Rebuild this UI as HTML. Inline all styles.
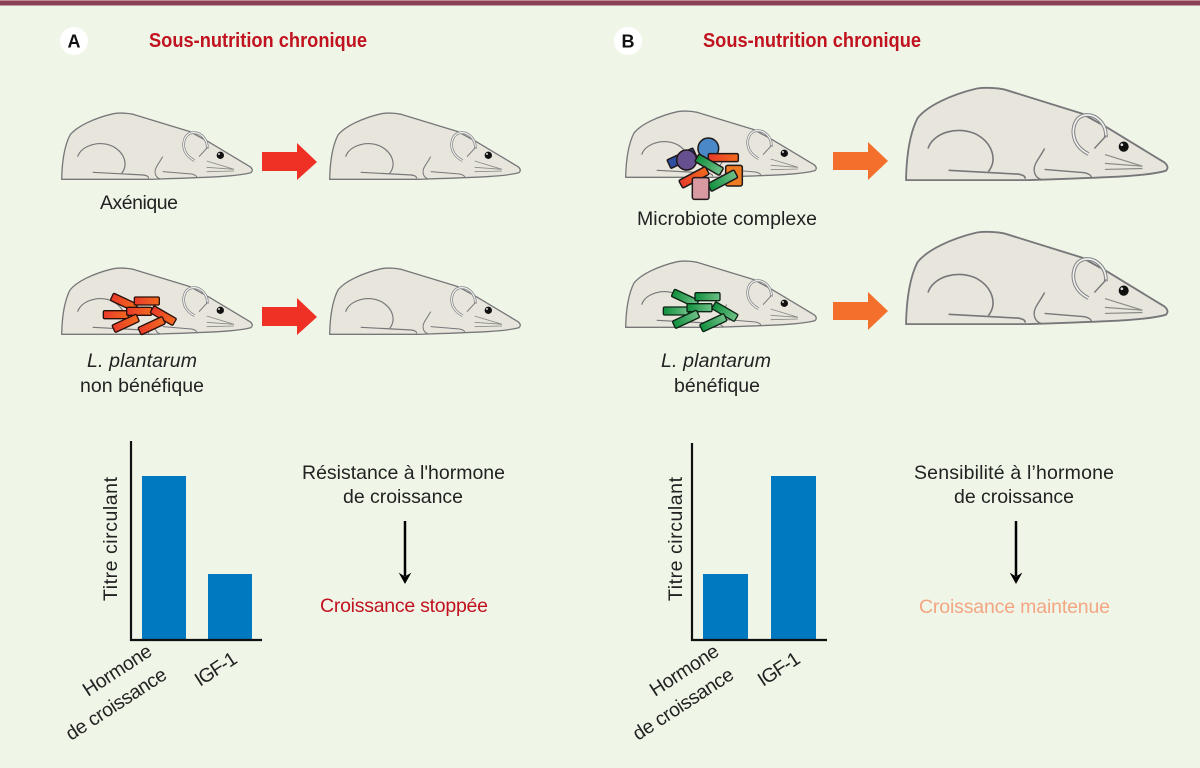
<!DOCTYPE html>
<html><head><meta charset="utf-8"><style>
html,body{margin:0;padding:0;background:#eff6e8}
svg{display:block}
text{font-family:"Liberation Sans",sans-serif;fill:#222;font-size:19.5px}
</style></head><body>
<svg width="1200" height="768" viewBox="0 0 1200 768" xmlns="http://www.w3.org/2000/svg">
<defs>
<linearGradient id="rd" x1="0" x2="1" y1="0" y2="0"><stop offset="0" stop-color="#e93a2a"/><stop offset="1" stop-color="#f26a1e"/></linearGradient>
<linearGradient id="gr" x1="0" x2="1" y1="0" y2="0"><stop offset="0" stop-color="#0f8f3c"/><stop offset="1" stop-color="#70c088"/></linearGradient>
<symbol id="m" overflow="visible" viewBox="0 0 640 300" width="640" height="300">
<path d="M35 268C36 220 42 170 60 135C80 110 130 85 190 71C210 68 235 70 250 73L420 125L475 155L600 230Q612 240 603 248C560 260 480 262 300 268Z" fill="#e8e6dc" stroke="#77777a" stroke-width="4" stroke-linejoin="round"/>
<path d="M83 200C95 165 150 150 190 170C225 190 235 225 215 250" fill="none" stroke="#77777a" stroke-width="3.5"/>
<path d="M128 247L280 255Q298 258 295 265" fill="none" stroke="#77777a" stroke-width="3.5"/>
<path d="M338 200C325 225 310 235 317 255Q322 265 330 266M338 245L425 252Q442 256 440 264" fill="none" stroke="#77777a" stroke-width="3"/>
<path d="M472 176C474 148 452 126 428 128C402 131 396 162 405 184C412 199 424 207 434 212" fill="none" stroke="#85858a" stroke-width="8"/>
<path d="M472 176C474 148 452 126 428 128C402 131 396 162 405 184C412 199 424 207 434 212" fill="none" stroke="#f2f2ee" stroke-width="3.500"/>
<path d="M473 172L447 200" fill="none" stroke="#77777a" stroke-width="3"/>
<circle cx="511" cy="196" r="11" fill="#111"/><circle cx="507" cy="192" r="3" fill="#ddd"/>
<path d="M470 213L552 238L470 232M470 245L552 243" fill="none" stroke="#8a8a85" stroke-width="2.5"/>
</symbol>
<g id="rods-r" stroke="#2a0f0a" stroke-width="4">
<rect x="-40" y="-12" width="80" height="24" rx="4" fill="url(#rd)" transform="translate(222 97) rotate(25)"/>
<rect x="-37" y="-12" width="75" height="24" rx="4" fill="url(#rd)" transform="translate(290 93)"/>
<rect x="-37" y="-12" width="75" height="24" rx="4" fill="url(#rd)" transform="translate(197 134)"/>
<rect x="-37" y="-12" width="75" height="24" rx="4" fill="url(#rd)" transform="translate(267 124)"/>
<rect x="-39" y="-12" width="78" height="24" rx="4" fill="url(#rd)" transform="translate(340 137) rotate(30)"/>
<rect x="-40" y="-12" width="80" height="24" rx="4" fill="url(#rd)" transform="translate(227 160) rotate(-25)"/>
<rect x="-40" y="-12" width="80" height="24" rx="4" fill="url(#rd)" transform="translate(305 167) rotate(-25)"/>
</g>
<g id="rods-g" stroke="#0c2414" stroke-width="4">
<rect x="-40" y="-12" width="80" height="24" rx="4" fill="url(#gr)" transform="translate(195 115) rotate(25)"/>
<rect x="-37" y="-12" width="75" height="24" rx="4" fill="url(#gr)" transform="translate(262 110)"/>
<rect x="-37" y="-12" width="75" height="24" rx="4" fill="url(#gr)" transform="translate(167 153)"/>
<rect x="-37" y="-12" width="75" height="24" rx="4" fill="url(#gr)" transform="translate(238 143)"/>
<rect x="-39" y="-12" width="78" height="24" rx="4" fill="url(#gr)" transform="translate(315 155) rotate(30)"/>
<rect x="-40" y="-12" width="80" height="24" rx="4" fill="url(#gr)" transform="translate(198 178) rotate(-25)"/>
<rect x="-40" y="-12" width="80" height="24" rx="4" fill="url(#gr)" transform="translate(280 188) rotate(-25)"/>
</g>
</defs>
<rect width="1200" height="768" fill="#eff6e8"/>
<rect width="1200" height="5.500" fill="#8c4055"/>
<rect width="1200" height="1" fill="#c08c98"/>

<!-- Titles -->
<circle cx="74" cy="41" r="14" fill="#fff"/><text x="74" y="47.500" text-anchor="middle" font-weight="bold" style="font-size:18px;fill:#111">A</text>
<circle cx="628" cy="41" r="14" fill="#fff"/><text x="628" y="47.500" text-anchor="middle" font-weight="bold" style="font-size:18px;fill:#111">B</text>
<text x="149" y="47" textLength="218" lengthAdjust="spacingAndGlyphs" font-weight="bold" style="font-size:20px;fill:#c1121f">Sous-nutrition chronique</text>
<text x="703" y="47" textLength="218" lengthAdjust="spacingAndGlyphs" font-weight="bold" style="font-size:20px;fill:#c1121f">Sous-nutrition chronique</text>

<!-- Mice A -->
<use href="#m" transform="translate(50 90) scale(.3333)"/>
<use href="#m" transform="translate(318 90) scale(.3333)"/>
<use href="#m" transform="translate(50 245) scale(.3333)"/>
<use href="#m" transform="translate(318 245) scale(.3333)"/>
<use href="#rods-r" transform="translate(50 270) scale(.3333)"/>

<!-- Mice B -->
<use href="#m" transform="translate(614 88) scale(.3333)"/>
<use href="#m" transform="translate(614 238) scale(.3333)"/>
<use href="#m" transform="translate(890 55.500) scale(.4573 .465)"/>
<use href="#m" transform="translate(890 199.500) scale(.4573 .465)"/>
<use href="#rods-g" transform="translate(620 260) scale(.3333)"/>

<g transform="translate(620 90) scale(.3333)" stroke="#20181a" stroke-width="4.500">
<rect x="-42" y="-14" width="85" height="28" rx="3" fill="#2f4fa0" transform="translate(185 205) rotate(-25)"/>
<circle cx="200" cy="210" r="30" fill="#66508f"/>
<circle cx="265" cy="175" r="31" fill="#4a88c8"/>
<rect x="265" y="191" width="90" height="24" rx="4" fill="url(#rd)"/>
<rect x="-42" y="-13" width="85" height="26" rx="4" fill="url(#gr)" transform="translate(267 224) rotate(30)"/>
<rect x="317" y="226" width="50" height="62" rx="6" fill="#ef7b22"/>
<rect x="-45" y="-13" width="90" height="26" rx="4" fill="url(#rd)" transform="translate(222 262) rotate(-28)"/>
<rect x="-45" y="-13" width="90" height="26" rx="4" fill="url(#gr)" transform="translate(308 272) rotate(-28)"/>
<rect x="217" y="263" width="50" height="65" rx="6" fill="#d89aa0"/>
</g>

<!-- Block arrows -->
<path d="M262 152H297V143L317 162L297 180V171H262Z" fill="#ee3124"/>
<path d="M262 307H297V298L317 317L297 335V326H262Z" fill="#ee3124"/>
<path d="M833 152H868V142L888 161L868 180V170H833Z" fill="#f36f2b"/>
<path d="M833 302H868V292L888 311L868 330V320H833Z" fill="#f36f2b"/>

<!-- Mouse labels -->
<text x="100" y="209" textLength="78">Axénique</text>
<text x="637" y="225" textLength="180">Microbiote complexe</text>
<text x="87" y="367" textLength="110" font-style="italic">L. plantarum</text>
<text x="80" y="392" textLength="124">non bénéfique</text>
<text x="661" y="367" textLength="110" font-style="italic">L. plantarum</text>
<text x="674" y="392" textLength="86">bénéfique</text>

<!-- Chart A -->
<rect x="142" y="476" width="44" height="164" fill="#0079c1"/>
<rect x="208" y="574" width="44" height="66" fill="#0079c1"/>
<path d="M131 441V640H262" fill="none" stroke="#111" stroke-width="2.200"/>
<text transform="translate(117 601) rotate(-90)" textLength="124">Titre circulant</text>
<text transform="translate(88 697) rotate(-33)" textLength="78">Hormone</text>
<text transform="translate(71 741) rotate(-33)" textLength="116">de croissance</text>
<text transform="translate(200 687) rotate(-33)" textLength="46">IGF-1</text>

<!-- Chart B -->
<rect x="703" y="574" width="45" height="66" fill="#0079c1"/>
<rect x="771" y="476" width="45" height="164" fill="#0079c1"/>
<path d="M692 443V640H827" fill="none" stroke="#111" stroke-width="2.200"/>
<text transform="translate(682 601) rotate(-90)" textLength="124">Titre circulant</text>
<text transform="translate(655 697) rotate(-33)" textLength="78">Hormone</text>
<text transform="translate(638 741) rotate(-33)" textLength="116">de croissance</text>
<text transform="translate(763 687) rotate(-33)" textLength="46">IGF-1</text>

<!-- Right text A -->
<text x="302" y="479" textLength="203">Résistance à l'hormone</text>
<text x="343" y="503" textLength="120">de croissance</text>
<path d="M405 521V576" stroke="#000" stroke-width="2.500"/><path d="M400 574L405 577L410 574L405 583Z" fill="#000" stroke="#000"/>
<text x="320" y="612" textLength="168" style="fill:#c1121f">Croissance stoppée</text>

<!-- Right text B -->
<text x="914" y="479" textLength="200">Sensibilité à l’hormone</text>
<text x="954" y="503" textLength="120">de croissance</text>
<path d="M1016 521V576" stroke="#000" stroke-width="2.500"/><path d="M1011 574L1016 577L1021 574L1016 583Z" fill="#000" stroke="#000"/>
<text x="919" y="613" textLength="191" style="fill:#f4a582">Croissance maintenue</text>
</svg>
</body></html>
